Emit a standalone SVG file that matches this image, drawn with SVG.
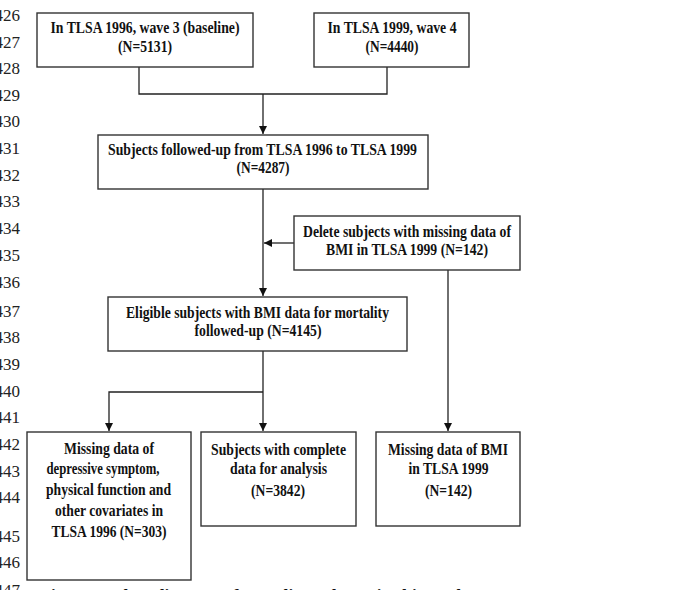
<svg xmlns="http://www.w3.org/2000/svg" width="685" height="590" viewBox="0 0 685 590">
<style>
.box{fill:#fff;stroke:#333;stroke-width:1.4}
.t{font-family:"Liberation Serif","Times New Roman",serif;font-weight:bold;font-size:17px;fill:#111;text-anchor:middle}
.ln{font-family:"Liberation Serif","Times New Roman",serif;font-size:17px;fill:#222;text-anchor:end}
.c{fill:none;stroke:#222;stroke-width:1.3}
</style>
<defs>
<marker id="ah" markerUnits="userSpaceOnUse" markerWidth="8" markerHeight="10" refX="8" refY="4" orient="auto">
<path d="M0,0 L8,4 L0,8 z" fill="#111"/>
</marker>
</defs>
<rect width="685" height="590" fill="#fff"/>
<g id="line-numbers">
<text class="ln" x="20" y="21">426</text>
<text class="ln" x="20" y="48">427</text>
<text class="ln" x="20" y="74">428</text>
<text class="ln" x="20" y="101">429</text>
<text class="ln" x="20" y="127">430</text>
<text class="ln" x="20" y="154">431</text>
<text class="ln" x="20" y="181">432</text>
<text class="ln" x="20" y="207">433</text>
<text class="ln" x="20" y="234">434</text>
<text class="ln" x="20" y="261">435</text>
<text class="ln" x="20" y="288">436</text>
<text class="ln" x="20" y="317">437</text>
<text class="ln" x="20" y="343">438</text>
<text class="ln" x="20" y="370">439</text>
<text class="ln" x="20" y="397">440</text>
<text class="ln" x="20" y="423">441</text>
<text class="ln" x="20" y="450">442</text>
<text class="ln" x="20" y="477">443</text>
<text class="ln" x="20" y="503">444</text>
<text class="ln" x="20" y="542">445</text>
<text class="ln" x="20" y="568">446</text>
<text class="ln" x="20" y="596">447</text>
</g>
<g id="connectors">
<path class="c" d="M139,67 V94 H387 V67"/>
<path class="c" d="M263,94 V134" marker-end="url(#ah)"/>
<path class="c" d="M263,189 V296" marker-end="url(#ah)"/>
<path class="c" d="M294,243 H264" marker-end="url(#ah)"/>
<path class="c" d="M448,270 V431" marker-end="url(#ah)"/>
<path class="c" d="M263,351 V431" marker-end="url(#ah)"/>
<path class="c" d="M263,392 H109 V431" marker-end="url(#ah)"/>
</g>
<g id="n1">
<rect class="box" x="37" y="13" width="216" height="54"/>
<text class="t" x="145" y="33" textLength="189" lengthAdjust="spacingAndGlyphs">In TLSA 1996, wave 3 (baseline)</text>
<text class="t" x="145" y="52" textLength="54" lengthAdjust="spacingAndGlyphs">(N=5131)</text>
</g>
<g id="n2">
<rect class="box" x="314" y="13" width="155" height="54"/>
<text class="t" x="392" y="33" textLength="129" lengthAdjust="spacingAndGlyphs">In TLSA 1999, wave 4</text>
<text class="t" x="392" y="52" textLength="53" lengthAdjust="spacingAndGlyphs">(N=4440)</text>
</g>
<g id="n3">
<rect class="box" x="98" y="135" width="330" height="54"/>
<text class="t" x="262.5" y="155" textLength="309" lengthAdjust="spacingAndGlyphs">Subjects followed-up from TLSA 1996 to TLSA 1999</text>
<text class="t" x="263" y="173" textLength="53" lengthAdjust="spacingAndGlyphs">(N=4287)</text>
</g>
<g id="n5">
<rect class="box" x="294" y="216" width="226" height="54"/>
<text class="t" x="407" y="236.5" textLength="208" lengthAdjust="spacingAndGlyphs">Delete subjects with missing data of</text>
<text class="t" x="407" y="254.5" textLength="162" lengthAdjust="spacingAndGlyphs">BMI in TLSA 1999 (N=142)</text>
</g>
<g id="n4">
<rect class="box" x="108" y="297" width="299" height="54"/>
<text class="t" x="257.5" y="318" textLength="263" lengthAdjust="spacingAndGlyphs">Eligible subjects with BMI data for mortality</text>
<text class="t" x="258" y="336" textLength="127" lengthAdjust="spacingAndGlyphs">followed-up (N=4145)</text>
</g>
<g id="n6">
<rect class="box" x="27" y="432" width="164" height="148"/>
<text class="t" x="109" y="454" textLength="90" lengthAdjust="spacingAndGlyphs">Missing data of</text>
<text class="t" x="103" y="474" textLength="113" lengthAdjust="spacingAndGlyphs">depressive symptom,</text>
<text class="t" x="108.5" y="494.5" textLength="125" lengthAdjust="spacingAndGlyphs">physical function and</text>
<text class="t" x="109" y="515.5" textLength="108" lengthAdjust="spacingAndGlyphs">other covariates in</text>
<text class="t" x="109" y="536.5" textLength="115" lengthAdjust="spacingAndGlyphs">TLSA 1996 (N=303)</text>
</g>
<g id="n7">
<rect class="box" x="201" y="432" width="155" height="94"/>
<text class="t" x="278.5" y="455" textLength="135" lengthAdjust="spacingAndGlyphs">Subjects with complete</text>
<text class="t" x="278.5" y="474" textLength="97" lengthAdjust="spacingAndGlyphs">data for analysis</text>
<text class="t" x="278" y="495.5" textLength="54" lengthAdjust="spacingAndGlyphs">(N=3842)</text>
</g>
<g id="n8">
<rect class="box" x="376" y="432" width="144" height="94"/>
<text class="t" x="448" y="455" textLength="120" lengthAdjust="spacingAndGlyphs">Missing data of BMI</text>
<text class="t" x="448.5" y="474" textLength="80" lengthAdjust="spacingAndGlyphs">in TLSA 1999</text>
<text class="t" x="448.5" y="495.5" textLength="47" lengthAdjust="spacingAndGlyphs">(N=142)</text>
</g>
<g id="caption">
<text class="t" x="40" y="601" style="text-anchor:start" textLength="430" lengthAdjust="spacingAndGlyphs">Figure 1. Flow diagram of sampling scheme in this study</text>
</g>
</svg>
